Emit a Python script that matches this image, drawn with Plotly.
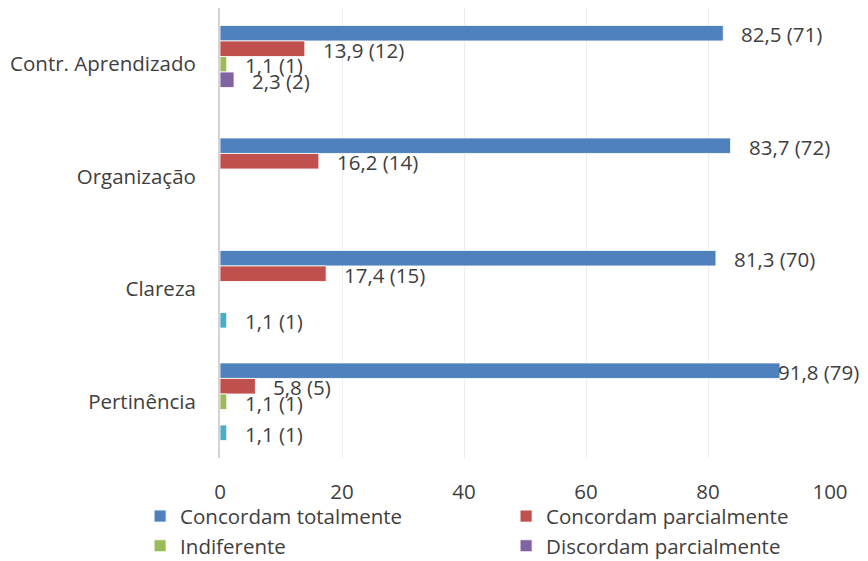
import plotly.graph_objects as go

# Survey items (top to bottom) and response shares in percent, with counts
categories = ["Contr. Aprendizado", "Organização", "Clareza", "Pertinência"]

series_names = [
    "Concordam totalmente",
    "Concordam parcialmente",
    "Indiferente",
    "Discordam parcialmente",
    "Discordam totalmente",
]
series_colors = ["#4F81BD", "#C0504D", "#9BBB59", "#8064A2", "#4BACC6"]
series_in_legend = [True, True, True, True, False]
# left legend column holds series 0 and 2, right column series 1 and 3
series_legend = ["legend", "legend2", "legend", "legend2", "legend"]

concordam_totalmente = [82.5, 83.7, 81.3, 91.8]
concordam_totalmente_n = [71, 72, 70, 79]
concordam_parcialmente = [13.9, 16.2, 17.4, 5.8]
concordam_parcialmente_n = [12, 14, 15, 5]
indiferente = [1.1, None, None, 1.1]
indiferente_n = [1, None, None, 1]
discordam_parcialmente = [2.3, None, None, None]
discordam_parcialmente_n = [2, None, None, None]
discordam_totalmente = [None, None, 1.1, 1.1]
discordam_totalmente_n = [None, None, 1, 1]

values = [concordam_totalmente, concordam_parcialmente, indiferente,
          discordam_parcialmente, discordam_totalmente]
counts = [concordam_totalmente_n, concordam_parcialmente_n, indiferente_n,
          discordam_parcialmente_n, discordam_totalmente_n]

x_ticks = [0, 20, 40, 60, 80, 100]

FONT = "Open Sans"
FSIZE = 20.5
TEXT_COLOR = "#404040"
W, H = 868, 561
M_L, M_R, M_T, M_B = 220, 38, 8, 103
BARGAP = 0.31


def fmt(v):
    return f"{v:.1f}".replace(".", ",")


fig = go.Figure()
for name, color, show, leg, vals in zip(series_names, series_colors, series_in_legend,
                                        series_legend, values):
    fig.add_trace(go.Bar(
        name=name,
        y=categories,
        x=vals,
        orientation="h",
        marker=dict(color=color, line=dict(color="white", width=0.8)),
        showlegend=show,
        legend=leg,
    ))

# Data labels placed just past the bar end, following each bar's slot in its group;
# labels of very long bars are pulled back over the bar end so they stay on the page
plot_h = H - M_T - M_B
bar_px = plot_h / len(categories) * (1 - BARGAP) / len(series_names)
annotations = []
for i, (vals, ns) in enumerate(zip(values, counts)):
    for cat, v, n in zip(categories, vals, ns):
        if v is None:
            continue
        label = f"{fmt(v)} ({n})"
        xs = -4 if v > 90 else 16
        annotations.append(dict(
            x=v, y=cat, xref="x", yref="y", text=label, showarrow=False,
            xanchor="left", yanchor="middle", xshift=xs,
            yshift=(2 - i) * bar_px - 1,
            font=dict(family=FONT, size=FSIZE, color=TEXT_COLOR),
        ))

# Two legend columns below the plot area; margins stay fixed
legend_style = dict(
    orientation="v", xanchor="left", yanchor="top", y=-0.085,
    font=dict(family=FONT, size=FSIZE, color=TEXT_COLOR),
    itemclick=False, tracegroupgap=0, bgcolor="rgba(0,0,0,0)",
)

fig.update_layout(
    width=W, height=H,
    margin=dict(l=M_L, r=M_R, t=M_T, b=M_B, autoexpand=False),
    paper_bgcolor="white", plot_bgcolor="white",
    barmode="group", bargap=BARGAP, bargroupgap=0,
    font=dict(family=FONT, size=FSIZE, color=TEXT_COLOR),
    annotations=annotations,
    legend=dict(x=-0.131, **legend_style),
    legend2=dict(x=0.469, **legend_style),
    xaxis=dict(
        range=[0, 100], tickvals=x_ticks, ticktext=[str(t) for t in x_ticks],
        showgrid=True, gridcolor="#ececec", gridwidth=1,
        zeroline=False, showline=False, ticks="",
        ticklabelstandoff=19, automargin=False,
        tickfont=dict(family=FONT, size=FSIZE, color=TEXT_COLOR),
    ),
    yaxis=dict(
        categoryorder="array", categoryarray=categories, autorange="reversed",
        showline=True, linecolor="#d4d4d4", linewidth=2,
        showgrid=False, ticks="", ticklabelstandoff=18, automargin=False,
        tickfont=dict(family=FONT, size=FSIZE, color=TEXT_COLOR),
    ),
)

fig.write_html("out.html")
